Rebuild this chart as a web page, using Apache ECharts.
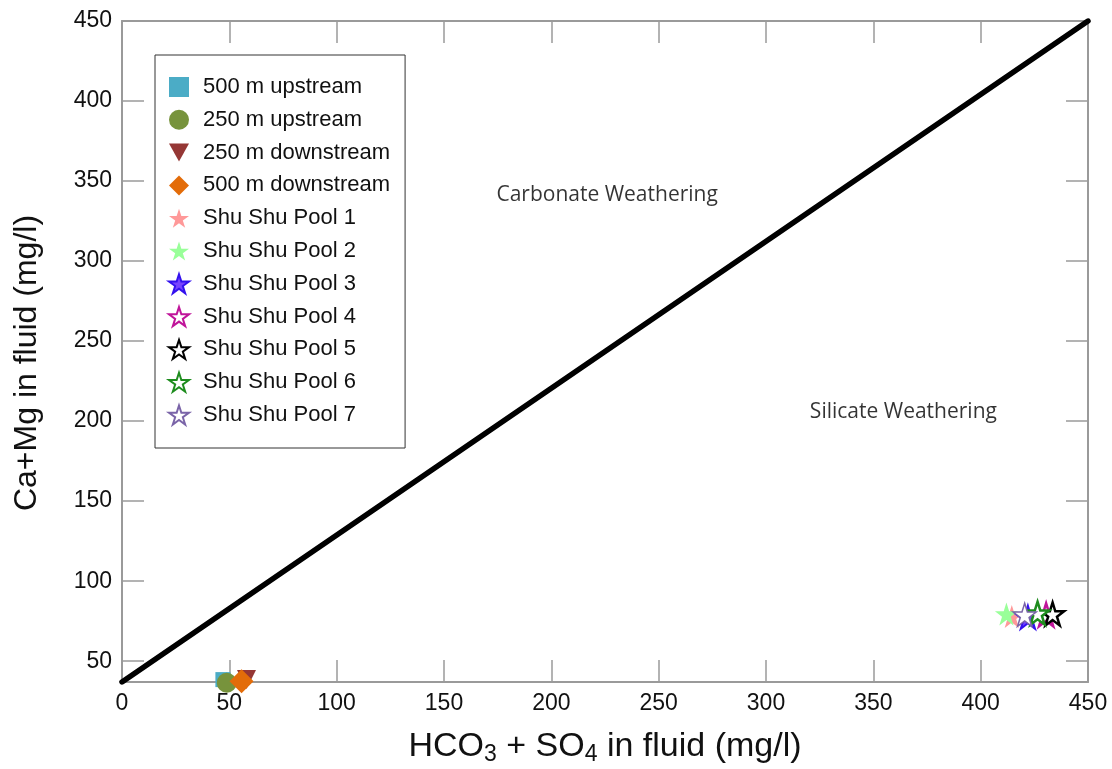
<!DOCTYPE html>
<html>
<head>
<meta charset="utf-8">
<title>Ca+Mg vs HCO3 + SO4</title>
<script src="https://cdn.jsdelivr.net/npm/echarts@6/dist/echarts.min.js"></script>
<style>
  html, body { margin: 0; padding: 0; background: #ffffff; }
  #chart { width: 1112px; height: 769px; }
</style>
</head>
<body>
<div id="chart"></div>
<script>
// Sample sites: [HCO3 + SO4, Ca + Mg] in mg/l
const up500 = [[47, 38.5]];
const up250 = [[48.8, 36.5]];
const down250 = [[58, 38.5]];
const down500 = [[55.7, 37.5]];
const pool1 = [[414.5, 78]];
const pool2 = [[412, 79.5]];
const pool3 = [[422, 77.5]];
const pool4 = [[430.5, 79]];
const pool5 = [[433.5, 79.5]];
const pool6 = [[426.5, 80]];
const pool7 = [[420.5, 79]];

// 1:1 reference line end points
const refLine = [[0, 37], [450, 450]];

// Field labels: [x, y, text]
const fieldLabels = [
  [226, 341, 'Carbonate Weathering'],
  [364, 206, 'Silicate Weathering']
];

const yTickValues = [50, 100, 150, 200, 250, 300, 350, 400, 450];

const STAR = 'path://M50,0 L61.2,34.5 L97.6,34.5 L68.2,55.9 L79.4,90.5 L50,69.1 L20.6,90.5 L31.8,55.9 L2.4,34.5 L38.8,34.5 Z';
const TRI_DOWN = 'path://M0,0 L100,0 L50,90 Z';

const series = [
  { name: '500 m upstream', data: up500, symbol: 'rect', size: 15, color: '#4BACC6' },
  { name: '250 m upstream', data: up250, symbol: 'circle', size: 20, color: '#77933C' },
  { name: '250 m downstream', data: down250, symbol: TRI_DOWN, size: 19, color: '#953735' },
  { name: '500 m downstream', data: down500, symbol: 'diamond', size: 24, color: '#E36C09' },
  { name: 'Shu Shu Pool 1', data: pool1, symbol: STAR, size: 23, color: '#FF9999' },
  { name: 'Shu Shu Pool 2', data: pool2, symbol: STAR, size: 23, color: '#99FF99' },
  { name: 'Shu Shu Pool 3', data: pool3, symbol: STAR, size: 23, color: '#7744FF', border: '#3311EE', bw: 2 },
  { name: 'Shu Shu Pool 4', data: pool4, symbol: STAR, size: 23, color: '#FFFFFF', border: '#C0149A', bw: 2.5 },
  { name: 'Shu Shu Pool 5', data: pool5, symbol: STAR, size: 23, color: '#FFFFFF', border: '#000000', bw: 2.5 },
  { name: 'Shu Shu Pool 6', data: pool6, symbol: STAR, size: 23, color: '#FFFFFF', border: '#1E8C1E', bw: 2.5 },
  { name: 'Shu Shu Pool 7', data: pool7, symbol: STAR, size: 23, color: '#FFFFFF', border: '#7A64A8', bw: 1.5 }
];

const chart = echarts.init(document.getElementById('chart'), null, { renderer: 'canvas' });

const axisGray = '#9a9a9a';
const sans = 'Arial, "Liberation Sans", sans-serif';

const scatterSeries = series.map(s => ({
  name: s.name,
  type: 'scatter',
  data: s.data,
  symbol: s.symbol,
  symbolSize: s.size,
  clip: false,
  itemStyle: {
    color: s.color,
    borderColor: s.border || s.color,
    borderWidth: s.bw || 0,
    opacity: 1
  },
  z: 5
}));

const option = {
  backgroundColor: '#ffffff',
  animation: false,
  grid: { left: 122, right: 24, top: 21, bottom: 87, containLabel: false, outerBoundsMode: 'none' },
  legend: {
    orient: 'vertical',
    left: 155,
    top: 55,
    itemWidth: 20,
    itemHeight: 20,
    itemGap: 10.8,
    padding: [21, 15, 22, 13],
    borderColor: '#333333',
    borderWidth: 1,
    backgroundColor: '#ffffff',
    textStyle: { fontFamily: sans, fontSize: 22, lineHeight: 22, color: '#111111', padding: [0, 0, 0, 9] },
    data: series.map(s => s.name)
  },
  graphic: [
    {
      type: 'text',
      x: 27, y: 363,
      rotation: Math.PI / 2,
      style: {
        text: 'Ca+Mg in fluid (mg/l)',
        font: '32px Arial, "Liberation Sans", sans-serif',
        fill: '#111111',
        textAlign: 'center',
        textVerticalAlign: 'middle'
      }
    }
  ],
  xAxis: [
    {
      type: 'value', min: 0, max: 450, interval: 50,
      name: '{n|HCO}{s|3}{n| + SO}{s|4}{n| in fluid (mg/l)}',
      nameLocation: 'middle', nameGap: 48,
      nameTextStyle: {
        rich: {
          n: { fontFamily: sans, fontSize: 34, color: '#111111', verticalAlign: 'top', lineHeight: 36 },
          s: { fontFamily: sans, fontSize: 23, color: '#111111', verticalAlign: 'bottom', lineHeight: 36, padding: [19, 0, 0, 0] }
        }
      },
      axisLine: { onZero: false, lineStyle: { color: axisGray, width: 2 } },
      axisTick: { inside: true, length: 22, lineStyle: { color: axisGray, width: 1.5 } },
      axisLabel: { fontFamily: sans, fontSize: 23, color: '#111111', margin: 10 },
      splitLine: { show: false }
    },
    {
      type: 'value', min: 0, max: 450, interval: 50, position: 'top',
      axisLine: { onZero: false, lineStyle: { color: axisGray, width: 2 } },
      axisTick: { inside: true, length: 22, lineStyle: { color: axisGray, width: 1.5 } },
      axisLabel: { show: false },
      splitLine: { show: false }
    }
  ],
  yAxis: [
    {
      type: 'value', min: 37, max: 450,
      axisLine: { onZero: false, lineStyle: { color: axisGray, width: 2 } },
      axisTick: { inside: true, length: 22, customValues: yTickValues, lineStyle: { color: axisGray, width: 1.5 } },
      axisLabel: { customValues: yTickValues, fontFamily: sans, fontSize: 23, color: '#111111', margin: 10 },
      splitLine: { show: false }
    },
    {
      type: 'value', min: 37, max: 450, position: 'right',
      axisLine: { onZero: false, lineStyle: { color: axisGray, width: 2 } },
      axisTick: { inside: true, length: 22, customValues: yTickValues, lineStyle: { color: axisGray, width: 1.5 } },
      axisLabel: { show: false },
      splitLine: { show: false }
    }
  ],
  series: [
    {
      name: '1:1',
      type: 'line',
      data: refLine,
      symbol: 'none',
      lineStyle: { color: '#000000', width: 5.5, cap: 'round' },
      silent: true,
      z: 3
    },
    {
      name: 'fields',
      type: 'scatter',
      data: fieldLabels,
      symbolSize: 0,
      silent: true,
      label: {
        show: true, position: 'inside',
        fontFamily: '"Open Sans", "Noto Sans", sans-serif', fontSize: 21, color: '#000000',
        formatter: p => p.value[2]
      },
      z: 2
    }
  ].concat(scatterSeries)
};

chart.setOption(option);
</script>
</body>
</html>
